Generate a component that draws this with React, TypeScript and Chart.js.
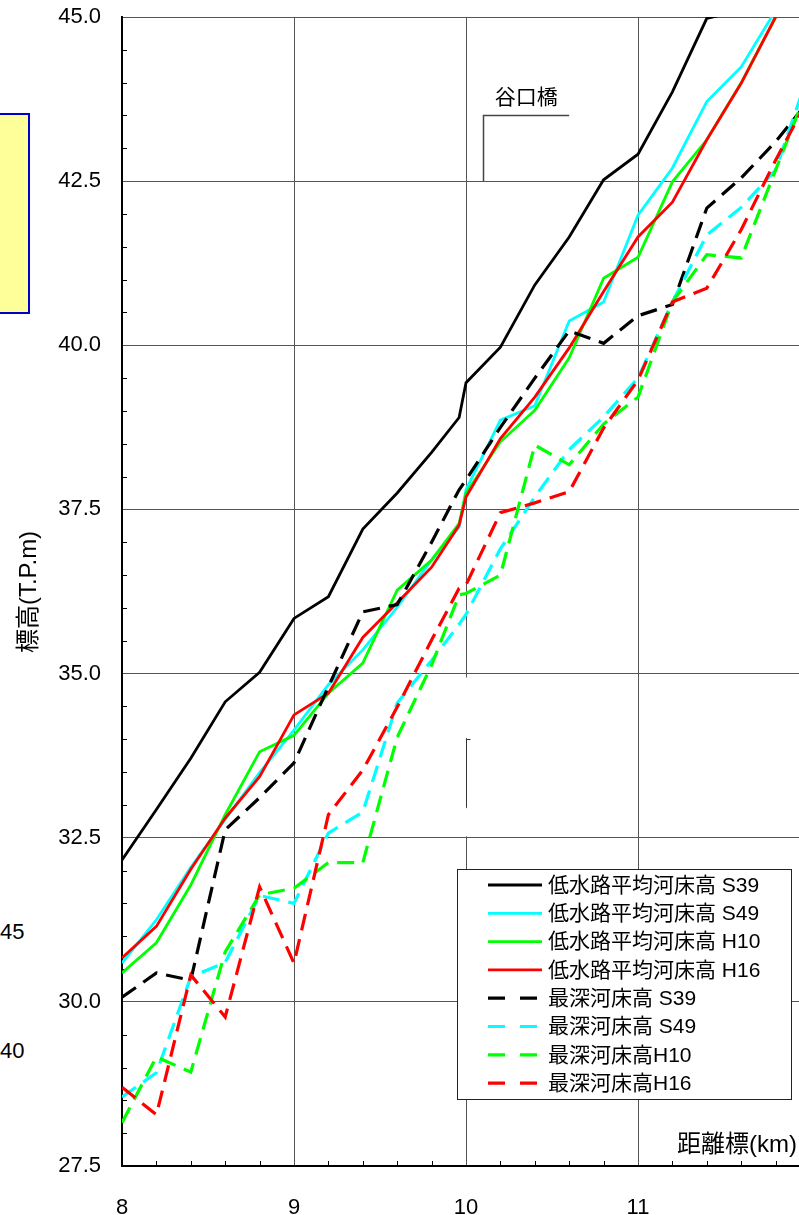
import React, { useEffect, useRef } from 'react';
import { Chart, registerables } from 'chart.js';

Chart.register(...registerables);

// ---- data ----
const KM = [8.0, 8.2, 8.4, 8.6, 8.8, 9.0, 9.2, 9.4, 9.6, 9.8, 9.96, 10.0, 10.2, 10.4, 10.6, 10.8, 11.0, 11.2, 11.4, 11.6, 11.8, 12.0];

const AVG_S39 = [32.16, 32.93, 33.71, 34.57, 35.02, 35.84, 36.17, 37.2, 37.75, 38.37, 38.9, 39.43, 39.97, 40.92, 41.65, 42.52, 42.91, 43.86, 44.98, 45.1, 45.6, 46.1];
const AVG_S49 = [30.59, 31.25, 32.05, 32.78, 33.49, 34.14, 34.83, 35.36, 36.01, 36.73, 37.23, 37.8, 38.86, 39.08, 40.37, 40.66, 41.98, 42.7, 43.71, 44.24, 45.1, 46.0];
const AVG_H10 = [30.44, 30.9, 31.78, 32.85, 33.81, 34.06, 34.7, 35.16, 36.27, 36.73, 37.29, 37.75, 38.53, 39.01, 39.81, 41.02, 41.34, 42.49, 43.13, 44.0, 45.0, 45.9];
const AVG_H16 = [30.67, 31.15, 32.02, 32.8, 33.43, 34.37, 34.7, 35.55, 36.08, 36.62, 37.26, 37.69, 38.58, 39.21, 39.96, 40.82, 41.65, 42.18, 43.13, 43.99, 45.0, 45.9];
const DEEP_S39 = [30.07, 30.44, 30.33, 32.62, 33.11, 33.64, 34.8, 35.94, 36.05, 37.0, 37.8, 37.95, 38.75, 39.5, 40.22, 40.03, 40.45, 40.62, 42.09, 42.55, 43.1, 43.75];
const DEEP_S49 = [28.55, 28.92, 30.38, 30.6, 31.62, 31.5, 32.57, 32.89, 34.55, 35.2, 35.75, 35.9, 36.9, 37.69, 38.41, 38.91, 39.5, 40.66, 41.68, 42.1, 42.67, 44.2];
const DEEP_H10 = [28.16, 29.16, 28.93, 30.76, 31.63, 31.73, 32.12, 32.12, 34.03, 35.13, 36.2, 36.22, 36.5, 38.48, 38.18, 38.8, 39.21, 40.66, 41.38, 41.33, 42.67, 44.0];
const DEEP_H16 = [28.7, 28.28, 30.41, 29.77, 31.75, 30.59, 32.85, 33.53, 34.49, 35.51, 36.3, 36.35, 37.45, 37.6, 37.77, 38.74, 39.47, 40.66, 40.87, 41.76, 42.82, 43.8];

const SERIES_LABELS = [
  '低水路平均河床高 S39',
  '低水路平均河床高 S49',
  '低水路平均河床高 H10',
  '低水路平均河床高 H16',
  '最深河床高 S39',
  '最深河床高 S49',
  '最深河床高H10',
  '最深河床高H16',
];
const SERIES_VALUES = [AVG_S39, AVG_S49, AVG_H10, AVG_H16, DEEP_S39, DEEP_S49, DEEP_H10, DEEP_H16];
const SERIES_COLORS = ['#000000', '#00FFFF', '#00FF00', '#FF0000', '#000000', '#00FFFF', '#00FF00', '#FF0000'];
const SERIES_DASHED = [false, false, false, false, true, true, true, true];

const X_MIN = 8;
const X_MAX = 11.936;
const Y_MIN = 27.5;
const Y_MAX = 45;
const Y_STEP = 2.5;
const X_STEP = 1;

const X_TITLE = '距離標(km)';
const Y_TITLE = '標高(T.P.m)';
const BRIDGE_LABEL = '谷口橋';
const BRIDGE_KM = 10.1;
const BRIDGE_END_KM = 10.6;
const BRIDGE_BASE = 42.5;
const BRIDGE_TOP = 43.5;
const BRIDGE_TEXT_KM = 10.35;
const BRIDGE_TEXT_Y = 43.76;
const MARK_KM = 10.0;
const MARK_TOP = 34.0;
const MARK_BOTTOM = 32.97;
// stretches of the 10 km grid line hidden by (white) text boxes
const GRID_GAPS = [[34.94, 34.02], [32.95, 32.52]];

const FONT = '"Liberation Sans", Arial, "Noto Sans CJK JP", sans-serif';

const minorTicks = {
  id: 'minorTicks',
  beforeDatasetsDraw(chart: any) {
    const { ctx, chartArea: a, scales } = chart;
    const x = scales.x, y = scales.y;
    ctx.save();
    // hide gaps of grid line
    ctx.fillStyle = '#fff';
    const gx = x.getPixelForValue(MARK_KM);
    GRID_GAPS.forEach(([t, b]) => {
      const y0 = y.getPixelForValue(t), y1 = y.getPixelForValue(b);
      ctx.fillRect(gx - 3, y0, 6, y1 - y0);
    });
    ctx.strokeStyle = '#000';
    ctx.lineWidth = 1;
    ctx.beginPath();
    for (let k = 1; X_MIN + 0.2 * k <= X_MAX; k++) {
      if (k % 5 === 0) continue;
      const px = Math.round(x.getPixelForValue(X_MIN + 0.2 * k)) + 0.5;
      ctx.moveTo(px, a.bottom);
      ctx.lineTo(px, a.bottom - 5);
    }
    for (let k = 1; Y_MIN + 0.5 * k < Y_MAX; k++) {
      if (k % 5 === 0) continue;
      const py = Math.round(y.getPixelForValue(Y_MIN + 0.5 * k)) + 0.5;
      ctx.moveTo(a.left, py);
      ctx.lineTo(a.left + 5, py);
    }
    ctx.stroke();
    ctx.restore();
  },
};

const overlay = {
  id: 'overlay',
  afterDraw(chart: any) {
    const { ctx, chartArea: a, scales } = chart;
    const x = scales.x, y = scales.y;
    ctx.save();
    // bridge annotation
    ctx.strokeStyle = '#444';
    ctx.lineWidth = 1.5;
    const bx = Math.round(x.getPixelForValue(BRIDGE_KM)) + 0.5;
    const by0 = y.getPixelForValue(BRIDGE_BASE);
    const by1 = Math.round(y.getPixelForValue(BRIDGE_TOP)) + 0.5;
    const bx1 = x.getPixelForValue(BRIDGE_END_KM);
    ctx.beginPath();
    ctx.moveTo(bx, by0);
    ctx.lineTo(bx, by1);
    ctx.lineTo(bx1, by1);
    ctx.stroke();
    ctx.fillStyle = '#000';
    ctx.font = `21px ${FONT}`;
    ctx.textAlign = 'center';
    ctx.textBaseline = 'middle';
    ctx.fillText(BRIDGE_LABEL, x.getPixelForValue(BRIDGE_TEXT_KM), y.getPixelForValue(BRIDGE_TEXT_Y));

    // small marker
    const mx = Math.round(x.getPixelForValue(MARK_KM)) + 0.5;
    const my0 = Math.round(y.getPixelForValue(MARK_TOP)) + 0.5;
    const my1 = y.getPixelForValue(MARK_BOTTOM);
    ctx.lineWidth = 1;
    ctx.strokeStyle = '#333';
    ctx.beginPath();
    ctx.moveTo(mx + 4, my0);
    ctx.lineTo(mx, my0);
    ctx.lineTo(mx, my1);
    ctx.stroke();

    // x title inside plot
    ctx.font = `24px ${FONT}`;
    ctx.textAlign = 'right';
    ctx.fillText(X_TITLE, a.right - 2, a.bottom - 21);

    // y title
    ctx.save();
    ctx.translate(29, 592);
    ctx.rotate(-Math.PI / 2);
    ctx.textAlign = 'center';
    ctx.fillText(Y_TITLE, 0, 0);
    ctx.restore();

    // legend
    const lx = 457, ly = 869, lw = 334, lh = 230;
    ctx.fillStyle = '#fff';
    ctx.fillRect(lx, ly, lw, lh);
    ctx.strokeStyle = '#222';
    ctx.lineWidth = 1;
    ctx.strokeRect(lx + 0.5, ly + 0.5, lw, lh);
    ctx.font = `21px ${FONT}`;
    ctx.textAlign = 'left';
    ctx.textBaseline = 'middle';
    SERIES_LABELS.forEach((label, i) => {
      const cy = ly + 16 + i * 28.3;
      ctx.strokeStyle = SERIES_COLORS[i];
      ctx.lineWidth = SERIES_DASHED[i] ? 3.2 : 2.8;
      ctx.setLineDash(SERIES_DASHED[i] ? [17, 15] : []);
      ctx.beginPath();
      ctx.moveTo(lx + 31, cy);
      ctx.lineTo(lx + 85, cy);
      ctx.stroke();
      ctx.setLineDash([]);
      ctx.fillStyle = '#000';
      ctx.fillText(label, lx + 91, cy + 1);
    });
    ctx.restore();
  },
};

export default function App() {
  const ref = useRef<HTMLCanvasElement>(null);
  useEffect(() => {
    if (!ref.current) return;
    const datasets = SERIES_LABELS.map((label, i) => ({
      label,
      data: KM.map((k, j) => ({ x: k, y: SERIES_VALUES[i][j] })),
      borderColor: SERIES_COLORS[i],
      backgroundColor: SERIES_COLORS[i],
      borderWidth: SERIES_DASHED[i] ? 3.2 : 2.8,
      borderDash: SERIES_DASHED[i] ? [17, 9] : [],
      pointRadius: 0,
      tension: 0,
      fill: false,
      clip: 0,
      order: SERIES_LABELS.length - i,
    }));
    const chart = new Chart(ref.current, {
      type: 'line',
      data: { datasets },
      options: {
        animation: false,
        responsive: false,
        devicePixelRatio: 1,
        layout: { padding: { top: 17, left: 0, right: 0, bottom: 0 } },
        plugins: { legend: { display: false }, tooltip: { enabled: false } },
        scales: {
          x: {
            type: 'linear',
            min: X_MIN,
            max: X_MAX,
            afterFit: (s: any) => { s.height = 49; s.paddingLeft = 0; s.paddingRight = 0; },
            ticks: {
              stepSize: X_STEP,
              includeBounds: false,
              color: '#000',
              font: { family: FONT, size: 22 },
              padding: 29,
              maxRotation: 0,
              callback: (v: any) => String(v),
            },
            grid: { color: '#555', lineWidth: 1, drawTicks: false },
            border: { color: '#000', width: 2 },
          },
          y: {
            type: 'linear',
            min: Y_MIN,
            max: Y_MAX,
            afterFit: (s: any) => { s.width = 122; s.paddingTop = 0; s.paddingBottom = 0; },
            ticks: {
              stepSize: Y_STEP,
              color: '#000',
              font: { family: FONT, size: 22 },
              padding: 21,
              callback: (v: any) => Number(v).toFixed(1),
            },
            grid: { color: '#555', lineWidth: 1, drawTicks: false },
            border: { color: '#000', width: 2 },
          },
        },
      },
      plugins: [minorTicks, overlay],
    } as any);
    return () => chart.destroy();
  }, []);

  return (
    <div style={{ position: 'absolute', left: 0, top: 0, width: 799, height: 1215, overflow: 'hidden', background: '#fff' }}>
      <div style={{ position: 'absolute', left: -10, top: 113, width: 36, height: 197, border: '2px solid #0000CC', background: '#FFFF99' }} />
      <div style={{ position: 'absolute', left: 0, top: 919, fontFamily: FONT, fontSize: 22, lineHeight: '26px', color: '#000' }}>45</div>
      <div style={{ position: 'absolute', left: 0, top: 1038, fontFamily: FONT, fontSize: 22, lineHeight: '26px', color: '#000' }}>40</div>
      <canvas ref={ref} width={799} height={1215} style={{ position: 'absolute', left: 0, top: 0, width: 799, height: 1215 }} />
    </div>
  );
}
